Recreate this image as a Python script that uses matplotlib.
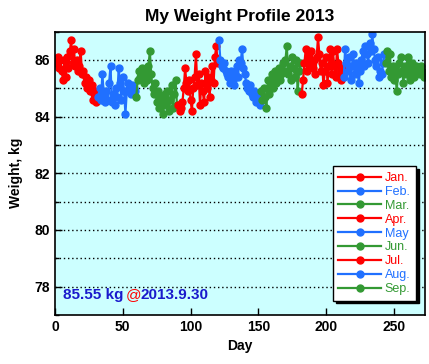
import matplotlib
matplotlib.use("Agg")
import matplotlib.pyplot as plt

plt.rcParams['font.family'] = ['Liberation Sans', 'DejaVu Sans']

months = ["Jan.", "Feb.", "Mar.", "Apr.", "May", "Jun.", "Jul.", "Aug.", "Sep."]
colors = ["#ff0000", "#2070ff", "#339933"] * 3

jan = [85.9, 86.1, 85.7, 86.0, 85.6, 85.3, 86.0, 85.4, 86.1, 85.7,
       86.3, 86.7, 85.9, 86.4, 85.8, 86.0, 85.6, 85.8, 86.3, 85.5,
       85.6, 85.2, 85.4, 85.0, 85.3, 84.9, 85.1, 84.6, 84.8, 84.5, 84.9]
feb = [84.7, 85.0, 84.6, 85.5, 84.8, 84.5, 84.9, 84.6, 85.2, 85.8,
       84.5, 84.8, 84.4, 85.0, 84.7, 85.7, 85.2, 84.6, 85.4, 84.9,
       84.1, 84.9, 85.2, 85.0, 84.8, 85.1, 85.0, 84.9]
mar = [84.7, 85.3, 85.6, 85.4, 85.7, 85.5, 85.2, 85.6, 85.3, 85.8,
       86.3, 85.5, 85.0, 84.8, 85.2, 84.5, 84.9, 84.3, 84.7, 84.5,
       84.1, 84.8, 84.4, 84.9, 84.2, 84.6, 85.1, 84.3, 84.8, 85.3, 84.4]
apr = [84.4, 84.2, 84.3, 84.5, 85.0, 85.7, 85.2, 84.9, 85.3, 84.6,
       84.2, 85.0, 85.4, 86.2, 85.1, 85.5, 84.4, 85.2, 84.9, 84.5,
       85.6, 85.0, 85.4, 84.7, 85.3, 85.8, 85.2, 86.1, 86.5, 85.9]
may = [86.7, 86.0, 85.8, 85.7, 85.9, 85.6, 85.5, 85.4, 85.2, 85.6,
       85.3, 85.1, 85.5, 85.8, 85.4, 86.0, 85.9, 86.4, 85.7, 85.5,
       85.2, 85.0, 84.9, 85.1, 84.8, 84.7, 84.9, 84.5, 84.6, 84.8, 84.4]
jun = [84.9, 84.6, 85.0, 84.7, 84.3, 85.3, 84.8, 85.1, 85.5, 85.0,
       85.6, 85.2, 85.4, 85.7, 85.3, 85.5, 85.9, 85.6, 86.0, 86.5,
       85.5, 85.8, 85.3, 86.1, 85.7, 85.4, 86.0, 84.9, 85.6, 85.9]
jul = [84.8, 85.3, 85.9, 86.4, 85.6, 86.2, 85.8, 86.3, 85.7, 86.0,
       85.5, 86.1, 86.8, 86.2, 85.6, 85.9, 85.1, 85.6, 86.1, 85.2,
       85.8, 86.4, 85.5, 86.3, 85.8, 85.4, 86.4, 85.9, 85.6, 85.3, 85.7]
aug = [85.4, 86.4, 85.9, 85.6, 86.1, 85.3, 85.8, 86.2, 85.5, 85.9,
       85.7, 85.2, 85.6, 86.0, 86.3, 85.8, 86.5, 86.2, 85.9, 86.6,
       86.3, 86.9, 86.4, 86.0, 85.8, 86.1, 85.4, 85.6, 85.5, 85.9, 86.2]
sep = [85.9, 86.3, 85.6, 86.2, 85.4, 85.8, 85.3, 85.7, 84.9, 85.5,
       85.9, 86.1, 85.6, 85.2, 85.8, 85.5, 86.1, 85.7, 85.3, 85.9,
       85.6, 85.4, 85.8, 85.6, 85.7, 85.5, 85.8, 85.6, 85.4, 85.55]

data = [jan, feb, mar, apr, may, jun, jul, aug, sep]

fig = plt.figure(figsize=(4.29, 3.64), dpi=100)
ax = fig.add_axes([0.128, 0.135, 0.863, 0.778])
ax.set_facecolor("#ccffff")

start = 1
for name, vals, c in zip(months, data, colors):
    days = list(range(start, start + len(vals)))
    ax.plot(days, vals, color=c, lw=1.6, marker='o', ms=5, label=name)
    start += len(vals)

ax.set_xlim(0, 273)
ax.set_ylim(77, 87)
ax.set_xticks([0, 50, 100, 150, 200, 250])
ax.set_yticks([78, 80, 82, 84, 86])
ax.set_yticks(range(77, 88), minor=True)
for y in range(78, 87):
    ax.axhline(y, color='black', lw=1, ls=(0, (1, 2)), zorder=0.5)
ax.tick_params(direction='in', length=5, width=1, labelsize=10)
ax.tick_params(which='minor', direction='in', length=3, width=1)
for lab in ax.get_xticklabels() + ax.get_yticklabels():
    lab.set_fontweight('bold')
for s in ax.spines.values():
    s.set_linewidth(1.2)

ax.set_title("My Weight Profile 2013", fontsize=12.5, fontweight='bold', pad=8)
ax.set_xlabel("Day", fontsize=10, fontweight='bold')
ax.set_ylabel("Weight, kg", fontsize=10, fontweight='bold', labelpad=8)

ax.text(0.022, 0.055, "85.55 kg", transform=ax.transAxes, color="#1a1acc",
        fontsize=11, fontweight='bold', va='baseline')
ax.text(0.19, 0.055, "@", transform=ax.transAxes, color="#ff0000",
        fontsize=11, va='baseline')
ax.text(0.232, 0.055, "2013.9.30", transform=ax.transAxes, color="#1a1acc",
        fontsize=11, fontweight='bold', va='baseline')

leg = ax.legend(loc='lower right', bbox_to_anchor=(0.992, 0.028), fontsize=9,
                handlelength=3.4, labelspacing=0.15, borderpad=0.45,
                handletextpad=0.3, fancybox=False, framealpha=1,
                shadow={'color': 'black', 'alpha': 1})
leg.get_frame().set_edgecolor('black')
leg.get_frame().set_linewidth(1)
for txt, c in zip(leg.get_texts(), colors):
    txt.set_color(c)

fig.savefig("out.png", dpi=100)
